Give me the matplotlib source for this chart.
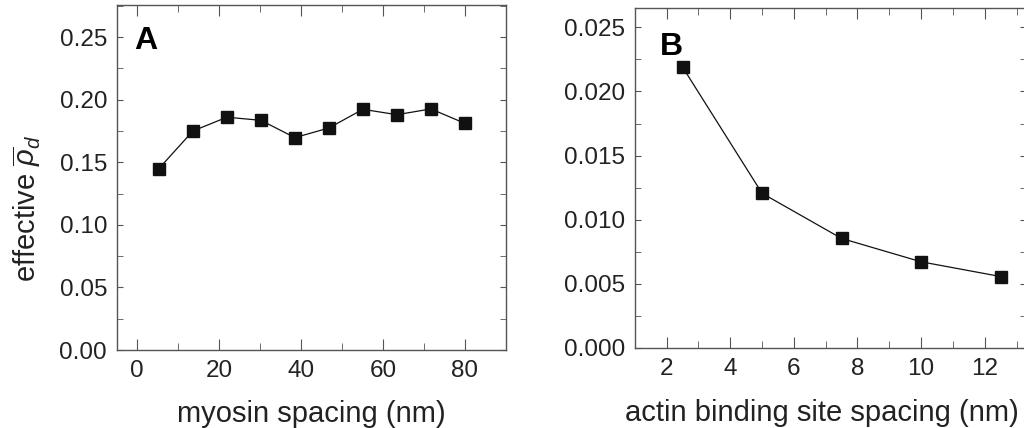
import numpy as np
import matplotlib.pyplot as plt
from matplotlib.ticker import MultipleLocator

plt.rcParams['font.family'] = ['Liberation Sans', 'DejaVu Sans']
plt.rcParams['mathtext.fontset'] = 'custom'
plt.rcParams['mathtext.it'] = 'Liberation Sans:italic'
plt.rcParams['mathtext.rm'] = 'Liberation Sans'

# panel A: myosin spacing
myosin_x = [5.3, 13.6, 21.9, 30.2, 38.5, 46.8, 55.1, 63.4, 71.7, 80.0]
myosin_rho = [0.145, 0.175, 0.186, 0.1835, 0.1697, 0.1774, 0.1923, 0.188, 0.1926, 0.1811]

# panel B: actin binding site spacing
actin_x = [2.5, 5.0, 7.5, 10.0, 12.5]
actin_rho = [0.0219, 0.01206, 0.00854, 0.00672, 0.00557]

fig = plt.figure(figsize=(10.24, 4.28), dpi=100)
axA = fig.add_axes([0.114, 0.182, 0.380, 0.806])
axB = fig.add_axes([0.620, 0.187, 0.382, 0.794])

spine_col = '#555555'

def style(ax):
    for s in ax.spines.values():
        s.set_color(spine_col)
        s.set_linewidth(1.0)
    ax.tick_params(axis='both', which='both', direction='in', top=True, right=True,
                   colors=spine_col, labelcolor='#222222', labelsize=17.5)
    ax.tick_params(axis='x', which='major', length=8, pad=7)
    ax.tick_params(axis='x', which='minor', length=5)
    ax.tick_params(axis='y', which='both', length=4, pad=7)

axA.plot(myosin_x, myosin_rho, '-', color='#111111', lw=0.9, marker='s', ms=8)
axA.set_xlim(-5, 90)
axA.set_ylim(0, 0.2755)
axA.xaxis.set_major_locator(MultipleLocator(20))
axA.xaxis.set_minor_locator(MultipleLocator(10))
axA.yaxis.set_major_locator(MultipleLocator(0.05))
axA.yaxis.set_minor_locator(MultipleLocator(0.025))
axA.yaxis.set_major_formatter(plt.FormatStrFormatter('%.2f'))
style(axA)
axA.set_xlabel('myosin spacing (nm)', fontsize=21, color='#222222')
axA.xaxis.set_label_coords(0.5, -0.145)
axA.set_ylabel(r'effective $\overline{\rho}_d$', fontsize=21, color='#222222')
axA.yaxis.set_label_coords(-0.19, 0.41)
axA.text(0.045, 0.94, 'A', transform=axA.transAxes, fontsize=23, fontweight='bold', va='top')

axB.plot(actin_x, actin_rho, '-', color='#111111', lw=0.9, marker='s', ms=8)
axB.set_xlim(1, 13.3)
axB.set_ylim(0, 0.0265)
axB.xaxis.set_major_locator(MultipleLocator(2))
axB.xaxis.set_minor_locator(MultipleLocator(1))
axB.yaxis.set_major_locator(MultipleLocator(0.005))
axB.yaxis.set_minor_locator(MultipleLocator(0.0025))
axB.yaxis.set_major_formatter(plt.FormatStrFormatter('%.3f'))
style(axB)
axB.set_xlabel('actin binding site spacing (nm)', fontsize=21, color='#222222')
axB.xaxis.set_label_coords(0.477, -0.15)
axB.text(0.063, 0.93, 'B', transform=axB.transAxes, fontsize=23, fontweight='bold', va='top')

fig.savefig('out.png', dpi=100)
